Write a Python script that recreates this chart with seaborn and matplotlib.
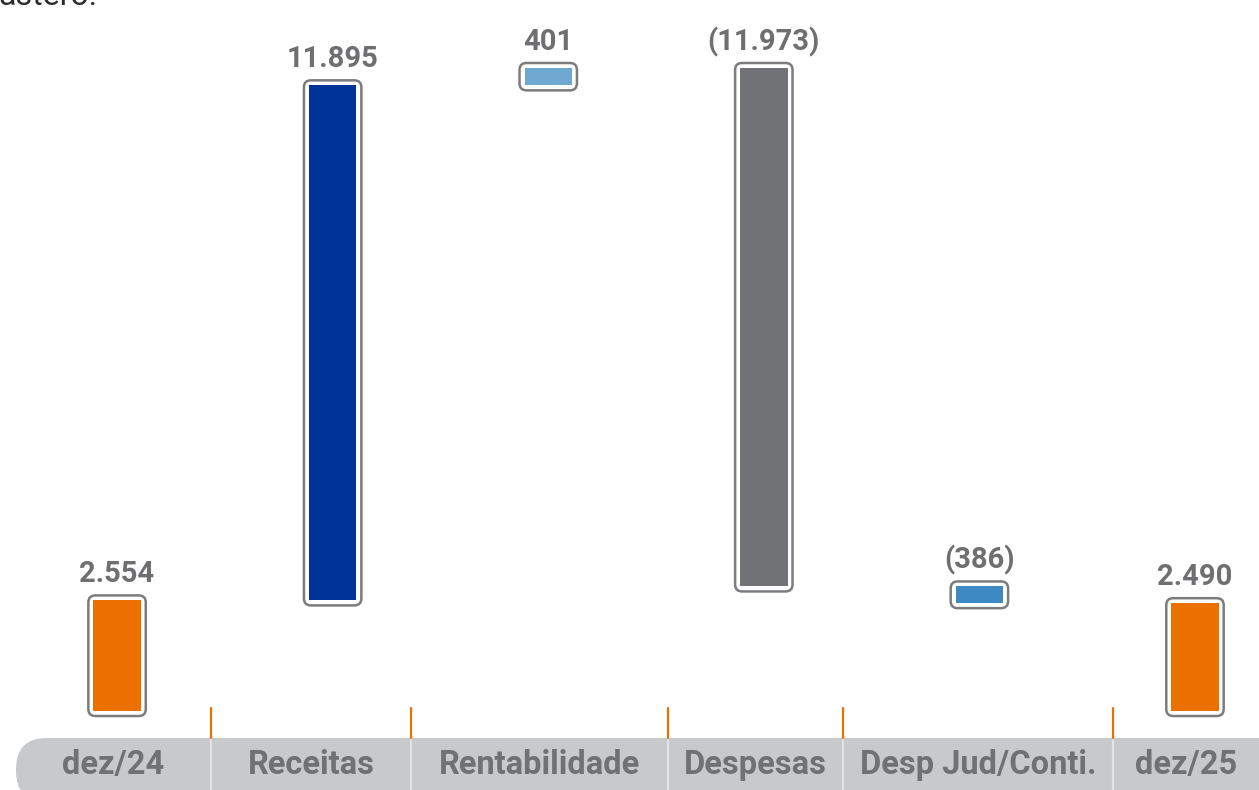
import numpy as np
import pandas as pd
import matplotlib
matplotlib.use("Agg")
import matplotlib.pyplot as plt
import seaborn as sns
from matplotlib.patches import FancyBboxPatch
from matplotlib.transforms import IdentityTransform
from matplotlib.lines import Line2D

# ---------------- data ----------------
categories = ["dez/24", "Receitas", "Rentabilidade", "Despesas", "Desp Jud/Conti.", "dez/25"]
values = [2554, 11895, 401, -11973, -386, 2490]
value_labels = ["2.554", "11.895", "401", "(11.973)", "(386)", "2.490"]
kinds = ["total", "delta", "delta", "delta", "delta", "total"]
bar_colors = ["#EC7000", "#003399", "#6FA8D1", "#717275", "#3E88C4", "#EC7000"]
top_text = "astero."

# waterfall geometry derived from the values
bottoms, heights = [], []
running = 0
for v, k in zip(values, kinds):
    if k == "total":
        bottoms.append(0)
        heights.append(v)
        running = v
    else:
        if v >= 0:
            bottoms.append(running)
            heights.append(v)
        else:
            bottoms.append(running + v)
            heights.append(-v)
        running += v

df = pd.DataFrame({"cat": categories, "height": heights})

# ---------------- style ----------------
sns.set_theme(style="white")
plt.rcParams["font.family"] = ["Roboto", "DejaVu Sans"]

W, H = 1259, 790
fig = plt.figure(figsize=(W / 100, H / 100), dpi=100)
ax = fig.add_axes([0, 0, 1, 1])

sns.barplot(data=df, x="cat", y="height", order=categories, width=0.22,
            color="#EC7000", linewidth=0, edgecolor="none", ax=ax, zorder=3)

ax.set_xlim(-0.543, 5.297)
ax.set_ylim(-1824, 16420)
ax.axis("off")

label_color = "#6F6F71"
outline_color = "#7C7C7E"

for p, b, c, lab in zip(ax.patches, bottoms, bar_colors, value_labels):
    p.set_y(b)
    p.set_facecolor(c)
    x0, w, h = p.get_x(), p.get_width(), p.get_height()
    (px0, py0), (px1, py1) = ax.transData.transform([(x0, b), (x0 + w, b + h)])
    pad = 5
    box = FancyBboxPatch((px0 - pad, py0 - pad), (px1 - px0) + 2 * pad, (py1 - py0) + 2 * pad,
                         boxstyle="round,pad=0,rounding_size=7",
                         transform=IdentityTransform(), facecolor="white",
                         edgecolor=outline_color, linewidth=1.8, zorder=2, clip_on=False)
    ax.add_artist(box)
    ax.annotate(lab, (x0 + w / 2, b + h), xytext=(0, 18), textcoords="offset pixels",
                ha="center", va="baseline", fontsize=21, fontweight="bold", color=label_color)

# ---------------- category band ----------------
band_bounds = [16, 211, 411, 668, 843, 1113, 1300]
band_top = 52
band = FancyBboxPatch((band_bounds[0], -12), band_bounds[-1] - band_bounds[0] + 40, band_top + 12,
                      boxstyle="round,pad=0,rounding_size=31", transform=IdentityTransform(),
                      facecolor="#C8C9CB", edgecolor="none", zorder=1, clip_on=False)
ax.add_artist(band)
for bx in band_bounds[1:-1]:
    ax.add_artist(Line2D([bx, bx], [0, band_top], transform=IdentityTransform(),
                         color="#E4E4E5", linewidth=1.6, zorder=2))
    ax.add_artist(Line2D([bx, bx], [band_top, band_top + 30], transform=IdentityTransform(),
                         color="#EC7000", linewidth=1.6, zorder=2))
for i, cat in enumerate(categories):
    cx = (band_bounds[i] + min(band_bounds[i + 1], W)) / 2
    fig.text(cx / W, 25 / H, cat, ha="center", va="center", fontsize=23.5,
             fontweight="bold", color="#707174")

# clipped text line at the very top
fig.text(-2 / W, (H - 5) / H, top_text, ha="left", va="baseline", fontsize=23, color="#2B2B2B")

fig.savefig("out.png", dpi=100)
